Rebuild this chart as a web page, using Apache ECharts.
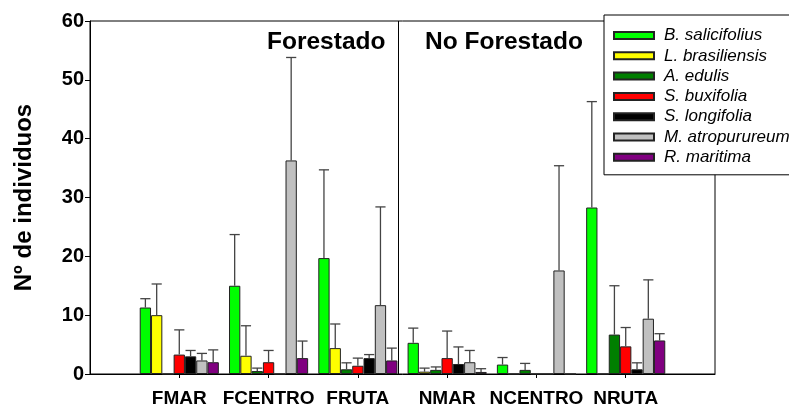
<!DOCTYPE html>
<html>
<head>
<meta charset="utf-8">
<script src="https://cdn.jsdelivr.net/npm/echarts@6/dist/echarts.min.js"></script>
<style>
  html, body { margin: 0; padding: 0; background: #fff; }
  #chart { width: 789px; height: 408px; }
</style>
</head>
<body>
<div id="chart"></div>
<script>
// Sites (blank slots pad the axis on both ends)
const categories = ['', 'FMAR', 'FCENTRO', 'FRUTA', 'NMAR', 'NCENTRO', 'NRUTA', ''];
const yTicks = [0, 10, 20, 30, 40, 50, 60];

const speciesNames = [
  'B. salicifolius', 'L. brasiliensis', 'A. edulis', 'S. buxifolia',
  'S. longifolia', 'M. atropurureum', 'R. maritima'
];
const speciesColors = ['#00ff00', '#ffff00', '#007f00', '#ff0000', '#000000', '#c0c0c0', '#800080'];

// Mean number of individuals per site (FMAR, FCENTRO, FRUTA, NMAR, NCENTRO, NRUTA)
const bSalicifoliusMean  = [11.3, 15.0, 19.7, 5.3, 1.6, 28.3];
const lBrasiliensisMean  = [10.0, 3.1, 4.4, 0.4, 0, 0];
const aEdulisMean        = [0, 0.5, 0.8, 0.7, 0.7, 6.7];
const sBuxifoliaMean     = [3.3, 2.0, 1.4, 2.7, 0, 4.7];
const sLongifoliaMean    = [3.0, 0, 2.7, 1.7, 0, 0.8];
const mAtropurureumMean  = [2.3, 36.3, 11.7, 2.0, 17.6, 9.4];
const rMaritimaMean      = [2.0, 2.7, 2.3, 0.35, 0, 5.7];

// Upper error (standard deviation)
const bSalicifoliusErr   = [1.5, 8.7, 15.0, 2.5, 1.2, 18.0];
const lBrasiliensisErr   = [5.3, 5.1, 4.1, 0.6, 0, 0];
const aEdulisErr         = [0, 0.5, 1.1, 0.5, 1.1, 8.3];
const sBuxifoliaErr      = [4.2, 2.0, 1.3, 4.6, 0, 3.2];
const sLongifoliaErr     = [1.0, 0, 0.6, 2.9, 0, 1.1];
const mAtropurureumErr   = [1.2, 17.5, 16.7, 2.0, 17.8, 6.6];
const rMaritimaErr       = [2.1, 2.9, 2.1, 0.55, 0, 1.15];

const means = [bSalicifoliusMean, lBrasiliensisMean, aEdulisMean, sBuxifoliaMean,
               sLongifoliaMean, mAtropurureumMean, rMaritimaMean];
const errs  = [bSalicifoliusErr, lBrasiliensisErr, aEdulisErr, sBuxifoliaErr,
               sLongifoliaErr, mAtropurureumErr, rMaritimaErr];

// Position of the Forestado / No Forestado divider on the site scale
const dividerAt = 3.45;

const FONT = "'Liberation Sans', Arial, Helvetica, sans-serif";
const CAT_GAP = 0.114;
const nSeries = speciesNames.length;

const barSeries = speciesNames.map((name, k) => ({
  name: name,
  type: 'bar',
  barGap: '0%',
  barCategoryGap: (CAT_GAP * 100) + '%',
  itemStyle: { color: speciesColors[k], borderColor: '#222', borderWidth: 1 },
  emphasis: { disabled: true },
  data: means[k].map((v, i) => [i + 1, v])
}));

const errData = [];
means.forEach((arr, k) => {
  arr.forEach((v, i) => {
    if (errs[k][i] > 0) errData.push([i + 1, v, errs[k][i], k]);
  });
});

const errSeries = {
  name: 'errors',
  type: 'custom',
  z: 5,
  silent: true,
  data: errData,
  renderItem: function (params, api) {
    const c = api.value(0), m = api.value(1), e = api.value(2), k = api.value(3);
    const band = Math.abs(api.coord([1, 0])[0] - api.coord([0, 0])[0]);
    const bw = band * (1 - CAT_GAP) / nSeries;
    const base = api.coord([c, m]);
    const cx = base[0] + (k - (nSeries - 1) / 2) * bw;
    const yTop = base[1];
    const yEnd = api.coord([c, m + e])[1];
    const half = bw * 0.45;
    const style = { stroke: '#444', lineWidth: 1.3 };
    return {
      type: 'group',
      children: [
        { type: 'line', shape: { x1: cx, y1: yTop, x2: cx, y2: yEnd }, style: style },
        { type: 'line', shape: { x1: cx - half, y1: yEnd, x2: cx + half, y2: yEnd }, style: style }
      ]
    };
  }
};

const dividerSeries = {
  name: 'divider',
  type: 'line',
  xAxisIndex: 1,
  data: [],
  silent: true,
  markLine: {
    symbol: 'none',
    silent: true,
    label: { show: false },
    lineStyle: { color: '#000', width: 1, type: 'solid' },
    data: [{ xAxis: dividerAt }]
  }
};

const chart = echarts.init(document.getElementById('chart'), null, { renderer: 'canvas' });
chart.setOption({
  animation: false,
  backgroundColor: '#fff',
  textStyle: { fontFamily: FONT },
  title: [
    { text: 'Forestado', left: 267, top: 30, padding: 0,
      textStyle: { fontFamily: FONT, fontSize: 24.5, fontWeight: 'bold', color: '#000' } },
    { text: 'No Forestado', left: 425, top: 30, padding: 0,
      textStyle: { fontFamily: FONT, fontSize: 24.5, fontWeight: 'bold', color: '#000' } }
  ],
  legend: {
    data: speciesNames,
    orient: 'vertical',
    left: 604,
    top: 15,
    padding: [12, 60, 9, 9],
    itemWidth: 40,
    itemHeight: 7,
    itemGap: 3.3,
    icon: 'rect',
    backgroundColor: '#fff',
    borderColor: '#000',
    borderWidth: 1,
    borderRadius: 0,
    selectedMode: false,
    textStyle: { fontFamily: FONT, fontSize: 17, fontStyle: 'italic', color: '#000', padding: [0, 0, 0, 5] }
  },
  grid: {
    left: 90, right: 74, top: 21, bottom: 33,
    show: true, borderColor: '#000', borderWidth: 1
  },
  xAxis: [
    {
      type: 'category',
      data: categories,
      boundaryGap: false,
      axisLine: { lineStyle: { color: '#000', width: 1 } },
      axisTick: { length: 4, lineStyle: { color: '#000' },
                  interval: (idx) => idx > 0 && idx < categories.length - 1 },
      axisLabel: { interval: 0, margin: 15, color: '#000', fontFamily: FONT, fontSize: 19, fontWeight: 'bold' },
      splitLine: { show: false }
    },
    { type: 'value', min: 0, max: categories.length - 1, show: false }
  ],
  yAxis: {
    type: 'value',
    min: yTicks[0],
    max: yTicks[yTicks.length - 1],
    interval: 10,
    name: 'Nº de individuos',
    nameLocation: 'middle',
    nameGap: 54,
    nameTextStyle: { fontFamily: FONT, fontSize: 24, fontWeight: 'bold', color: '#000' },
    axisLine: { show: true, lineStyle: { color: '#000', width: 1 } },
    axisTick: { show: true, length: 5, lineStyle: { color: '#000' } },
    axisLabel: { margin: 6, color: '#000', fontFamily: FONT, fontSize: 20, fontWeight: 'bold' },
    splitLine: { show: false }
  },
  series: barSeries.concat([errSeries, dividerSeries])
});
</script>
</body>
</html>
